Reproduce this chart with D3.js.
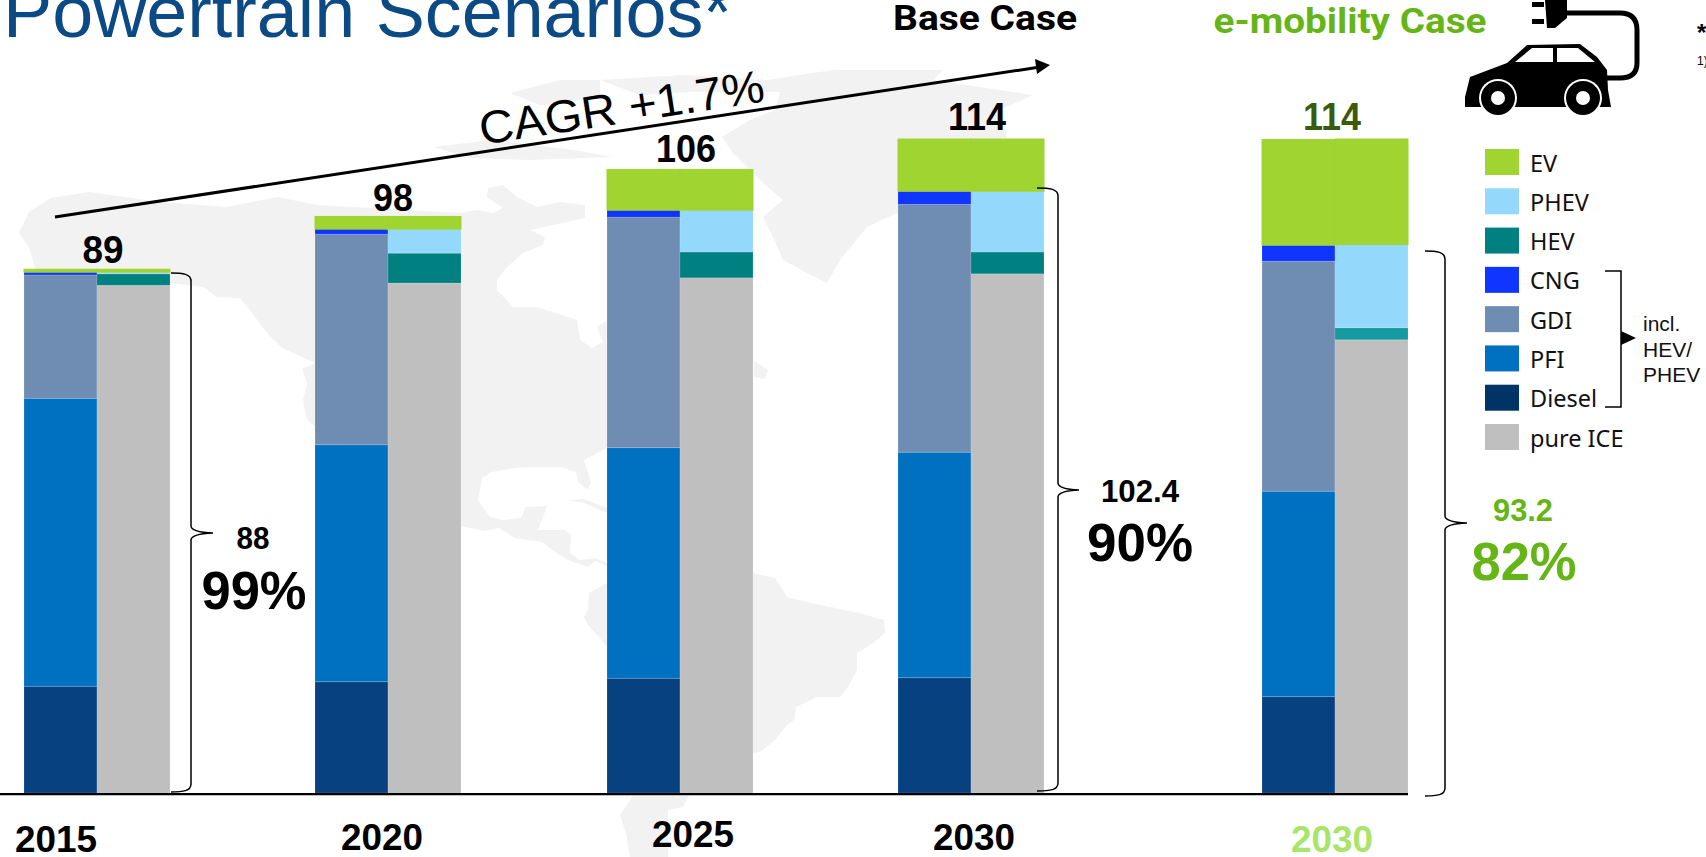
<!DOCTYPE html>
<html lang="en">
  <head>
    <meta charset="UTF-8" />
    <title>Powertrain Scenarios</title>
    <script src="https://d3js.org/d3.v7.min.js"></script>
    <style>
      html, body { margin: 0; padding: 0; background: #fff; overflow: hidden; }
      svg { display: block; }
      text { font-family: "Liberation Sans", Arial, sans-serif; }
    </style>
  </head>
  <body>
    <svg width="1706" height="857"></svg>

    <script>
      // Data (million vehicles)
      const scenarios = ["2015", "2020", "2025", "2030", "2030 e-mobility"];
      const yearLabels = ["2015", "2020", "2025", "2030", "2030"];
      const totals = ["89", "98", "106", "114", "114"];

      // left column of each bar
      const diesel = [18.6, 19.4, 20.0, 20.1, 16.8];
      const pfi = [50.2, 41.3, 40.2, 39.3, 35.8];
      const gdi = [21.5, 36.7, 40.2, 43.2, 40.1];
      const cng = [0.5, 0.9, 1.2, 2.3, 2.8];
      const ev = [0.5, 2.2, 7.1, 9.1, 18.4];

      // right column of each bar (ev is shared)
      const pureIce = [88.5, 88.9, 89.8, 90.5, 79.0];
      const hev = [2.0, 5.2, 4.5, 3.8, 2.1];
      const phev = [0.3, 4.2, 7.3, 10.6, 14.5];

      const legendLabels = ["EV", "PHEV", "HEV", "CNG", "GDI", "PFI", "Diesel", "pure ICE"];

      const colors = {
        EV: "#9fd431",
        PHEV: "#94d8fc",
        HEV: "#008080",
        CNG: "#1035ff",
        GDI: "#6f8db3",
        PFI: "#0071c1",
        Diesel: "#08417f",
        "pure ICE": "#bfbfbf",
      };
      const GREEN = "#66b516";

      const svg = d3.select("svg");

      // Escalas
      const y = d3.scaleLinear().domain([0, 114]).range([793, 139]);
      const x = d3.scaleOrdinal().domain(scenarios).range([24, 315, 607, 898, 1262]);
      const column = d3.scaleBand().domain(["left", "right"]).range([0, 146]);

      // World map in the background (rough outline)
      const landShapes = [
        // North America
        [[19,233],[29,212],[51,198],[89,192],[125,197],[160,202],[227,207],[277,197],[303,202],[317,205],[460,213],[477,210],[493,213],[503,208],[487,197],[488,188],[503,185],[517,197],[537,207],[560,202],[585,205],[585,218],[553,225],[530,230],[545,237],[543,245],[523,253],[507,267],[497,280],[497,290],[513,307],[537,307],[577,320],[580,340],[592,348],[603,342],[597,327],[607,320],[640,227],[700,300],[700,440],[607,448],[584,460],[591,482],[588,490],[578,482],[576,472],[561,467],[534,467],[515,468],[492,472],[482,478],[478,500],[490,517],[503,520],[521,518],[526,507],[547,506],[542,520],[538,530],[565,530],[571,535],[570,553],[580,560],[595,558],[607,563],[620,570],[607,566],[595,561],[588,567],[568,560],[555,552],[542,542],[515,538],[499,528],[484,531],[461,526],[316,427],[307,420],[303,400],[307,383],[302,369],[315,363],[282,348],[267,333],[252,313],[240,298],[217,297],[203,287],[170,283],[100,300],[35,268],[29,247]],
        // Greenland and the islands north of it
        [[600,80],[683,75],[767,80],[833,70],[943,70],[933,80],[1033,95],[1000,110],[1007,137],[897,213],[867,227],[840,260],[827,283],[807,273],[783,260],[773,237],[763,217],[783,200],[763,183],[733,153],[722,137],[750,120],[775,110],[780,92],[690,92],[640,95]],
        // South America
        [[607,583],[589,593],[588,610],[584,617],[588,625],[599,637],[607,647],[640,780],[633,796],[620,815],[626,833],[630,857],[668,857],[668,810],[683,807],[689,796],[753,753],[760,752],[775,740],[787,725],[794,720],[796,707],[817,697],[840,697],[848,687],[857,670],[857,653],[873,643],[885,633],[884,620],[859,613],[821,605],[798,600],[787,597],[783,590],[775,578],[753,573],[680,570]],
        // Arctic islands
        [[510,93],[561,80],[600,80],[600,98],[540,105]],
        [[434,147],[491,140],[574,150],[612,157],[529,160],[470,158]],
        // Cuba, Newfoundland
        [[566,500],[584,499],[607,508],[607,513],[584,503]],
        [[754,361],[768,370],[765,379],[754,377]],
      ];
      svg
        .append("g")
        .selectAll("polygon")
        .data(landShapes)
        .join("polygon")
        .attr("points", (d) => d.join(" "))
        .attr("fill", "#f2f2f2");

      // Barras empilhadas
      const rows = scenarios.map((s, i) => ({
        scenario: s,
        Diesel: diesel[i],
        PFI: pfi[i],
        GDI: gdi[i],
        CNG: cng[i],
        EV: ev[i],
        "pure ICE": pureIce[i],
        HEV: hev[i],
        PHEV: phev[i],
      }));

      function drawColumn(side, keys) {
        const layers = d3.stack().keys(keys)(rows);
        svg
          .append("g")
          .selectAll("g")
          .data(layers)
          .join("g")
          .selectAll("rect")
          .data((layer) => layer.map((d) => ({ key: layer.key, d: d })))
          .join("rect")
          .attr("x", (o) => x(o.d.data.scenario) + column(side))
          .attr("y", (o) => y(o.d[1]))
          .attr("width", column.bandwidth())
          .attr("height", (o) => y(o.d[0]) - y(o.d[1]))
          .attr("fill", (o) =>
            o.key === "HEV" && o.d.data.scenario === "2030 e-mobility" ? "#149aa0" : colors[o.key]
          )
          // thin light edge on the segments, but the EV cap reads as one block
          .attr("stroke", (o) => (o.key === "EV" ? colors.EV : "#fff"))
          .attr("stroke-opacity", (o) => (o.key === "EV" ? 1 : 0.14))
          .attr("stroke-width", 1);
      }
      drawColumn("left", ["Diesel", "PFI", "GDI", "CNG", "EV"]);
      drawColumn("right", ["pure ICE", "HEV", "PHEV", "EV"]);

      // Linha de base
      svg.append("line").attr("x1", 0).attr("x2", 1408).attr("y1", 795).attr("y2", 795)
        .attr("stroke", "#bdbdbd").attr("stroke-width", 2);
      svg.append("line").attr("x1", 0).attr("x2", 1408).attr("y1", 794).attr("y2", 794)
        .attr("stroke", "#000").attr("stroke-width", 2);

      // Text helper: width is forced so the narrow look of the original is kept
      function label(px, py, txt, size, width, fill, family) {
        const t = svg
          .append("text")
          .attr("x", px)
          .attr("y", py)
          .attr("text-anchor", "middle")
          .attr("font-size", size)
          .attr("font-weight", "bold")
          .attr("fill", fill || "#000")
          .text(txt);
        if (width) t.attr("textLength", width).attr("lengthAdjust", "spacingAndGlyphs");
        if (family) t.style("font-family", family);
        return t;
      }

      // Title, cut by the top edge of the page
      svg
        .append("text")
        .attr("x", 3)
        .attr("y", 37)
        .attr("font-size", 73)
        .attr("fill", "#0b4a84")
        .attr("textLength", 729)
        .attr("lengthAdjust", "spacingAndGlyphs")
        .text("Powertrain Scenarios*");

      label(985, 30, "Base Case", 35, 184, "#000", "Roboto");
      label(1350, 33, "e-mobility Case", 35, 273, GREEN, "Roboto");

      // Totais
      const totalX = [103, 393, 686, 977, 1332];
      const totalY = [263, 211, 162, 130, 130];
      const totalW = [41, 40, 60, 58, 58];
      totals.forEach((t, i) => {
        label(totalX[i], totalY[i], t, 39, totalW[i], i === 4 ? "#3a5a0e" : "#000");
      });

      // Anos
      const yearX = [56, 382, 693, 974, 1332];
      const yearY = [852, 850, 847, 850, 852];
      yearLabels.forEach((t, i) => {
        label(yearX[i], yearY[i], t, 37, 82, i === 4 ? "#a9e56b" : "#000");
      });

      // CAGR arrow
      svg.append("line").attr("x1", 55).attr("y1", 217).attr("x2", 1040).attr("y2", 67)
        .attr("stroke", "#000").attr("stroke-width", 3);
      svg.append("polygon").attr("points", "1050,65 1035,59 1037,74").attr("fill", "#000");
      svg
        .append("text")
        .attr("transform", "translate(624,123) rotate(-8.7)")
        .attr("text-anchor", "middle")
        .attr("font-size", 46)
        .attr("textLength", 288)
        .attr("lengthAdjust", "spacingAndGlyphs")
        .text("CAGR +1.7%");

      // Curly braces next to the bars
      function brace(xHook, xV, yTop, yMid, xTip, yBot) {
        const p = d3.path();
        p.moveTo(xHook, yTop);
        p.bezierCurveTo(xV - 8, yTop, xV, yTop + 1, xV, yTop + 8);
        p.lineTo(xV, yMid - 7);
        p.quadraticCurveTo(xV, yMid - 1, xTip, yMid);
        p.quadraticCurveTo(xV, yMid + 1, xV, yMid + 7);
        p.lineTo(xV, yBot - 8);
        p.bezierCurveTo(xV, yBot - 1, xV - 8, yBot, xHook, yBot);
        svg.append("path").attr("d", p.toString()).attr("fill", "none")
          .attr("stroke", "#000").attr("stroke-width", 1.5);
      }
      brace(171, 191, 273, 533, 213, 792);
      brace(1037, 1058, 188, 490, 1079, 791);
      brace(1425, 1445, 251, 523, 1467, 796);

      // ICE share labels
      label(253, 549, "88", 32, 33);
      label(254, 609, "99%", 54, 105);
      label(1140, 502, "102.4", 31, 78);
      label(1140, 561, "90%", 53, 106);
      label(1523, 521, "93.2", 31, 60, GREEN);
      label(1524, 580, "82%", 53, 105, GREEN);

      // Legenda
      const legendY = d3.scalePoint().domain(legendLabels).range([149, 424]);
      const legendColor = (k) => (k === "Diesel" ? "#003366" : colors[k]);
      const legend = svg
        .append("g")
        .selectAll("g")
        .data(legendLabels)
        .join("g")
        .attr("transform", (d) => `translate(1485,${legendY(d)})`);
      legend.append("rect").attr("width", 34).attr("height", 26).attr("fill", legendColor);
      legend
        .append("text")
        .attr("x", 45)
        .attr("y", 22.5)
        .attr("font-size", 23.5)
        .style("font-family", "Noto Sans")
        .attr("fill", "#111")
        .text((d) => d);

      // incl. HEV/PHEV bracket
      svg.append("path").attr("d", "M1605,271H1621V407H1605").attr("fill", "none")
        .attr("stroke", "#000").attr("stroke-width", 1.5);
      svg.append("polygon").attr("points", "1621,331 1636,338 1621,345").attr("fill", "#000");
      ["incl.", "HEV/", "PHEV"].forEach((t, i) => {
        svg
          .append("text")
          .attr("x", 1643)
          .attr("y", 331 + i * 25.5)
          .attr("font-size", 21)
          .attr("fill", "#111")
          .text(t);
      });

      // Footnote marks cut by the right edge
      svg.append("text").attr("x", 1697).attr("y", 41).attr("font-size", 24)
        .attr("font-weight", "bold").text("*");
      svg.append("text").attr("x", 1697).attr("y", 65).attr("font-size", 12).text("1)");

      // Electric car icon
      const icon = svg.append("g");
      icon.append("path")
        .attr("d", "M1567,13H1620Q1637,13 1637,30V63Q1637,78 1620,78H1605")
        .attr("fill", "none").attr("stroke", "#000").attr("stroke-width", 5);
      icon.append("polygon").attr("points", "1545,0 1567,0 1567,18 1555,28 1547,28").attr("fill", "#000");
      icon.append("rect").attr("x", 1532).attr("y", 2).attr("width", 12).attr("height", 5);
      icon.append("rect").attr("x", 1532).attr("y", 19).attr("width", 12).attr("height", 5);
      icon.append("polygon")
        .attr("points", "1465,107 1465,97 1470,77 1507,63 1527,45 1580,44 1597,57 1607,70 1608,90 1611,107")
        .attr("fill", "#000");
      icon.append("polygon").attr("points", "1515,62 1532,48 1553,48 1553,62").attr("fill", "#fff");
      icon.append("polygon").attr("points", "1557,62 1557,48 1578,48 1595,62").attr("fill", "#fff");
      [1498, 1583].forEach((cx) => {
        icon.append("circle").attr("cx", cx).attr("cy", 98).attr("r", 19).attr("fill", "#fff");
        icon.append("circle").attr("cx", cx).attr("cy", 98).attr("r", 17).attr("fill", "#000");
        icon.append("circle").attr("cx", cx).attr("cy", 98).attr("r", 7).attr("fill", "#fff");
      });
    </script>
  </body>
</html>
